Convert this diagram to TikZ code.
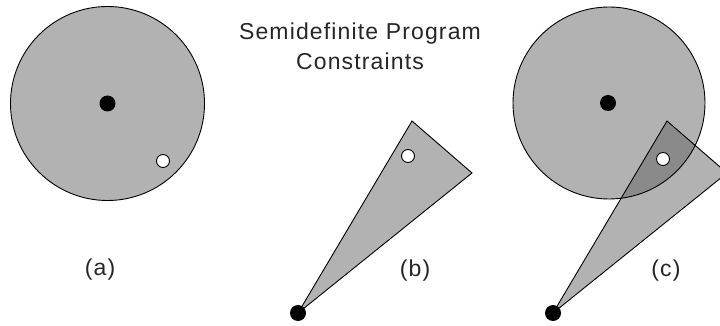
\documentclass[tikz,border=0pt]{standalone}
\usepackage{fontspec}
\newfontfamily\lblfont[LetterSpace=5]{Liberation Sans}
\begin{document}
\begin{tikzpicture}[x=1pt,y=-1pt,
  region/.style={fill=black!30, draw=black, line width=0.9pt},
  outline/.style={draw=black, line width=0.9pt},
  overlap/.style={fill=black!46},
  solid dot/.style={circle, fill=black, inner sep=0pt, minimum size=16pt},
  hollow dot/.style={circle, fill=white, draw=black, line width=0.9pt, inner sep=0pt, minimum size=13pt},
  lbl/.style={font=\lblfont\fontsize{23}{30}\selectfont, text=black!85, inner sep=0pt, align=center}]
\useasboundingbox (0,0) rectangle (720,326);
\clip (0,0) rectangle (720,326);
% (a)
\fill[white] (0,0) rectangle (720,326);
\draw[region] (107.5,103.5) circle[radius=97];
\node[solid dot] (ca) at (107.5,103.5) {};
\node[hollow dot] (wa) at (163,161) {};
\node[lbl] (la) at (100,270) {(a)};
% title
\node[lbl] (title) at (360,46) {Semidefinite Program\\Constraints};
% (b)
\coordinate (bA) at (298,313);
\coordinate (bT) at (412,121);
\coordinate (bR) at (472,173);
\draw[region, line join=miter] (bA) -- (bT) -- (bR) -- cycle;
\node[hollow dot] (wb) at (408,156) {};
\node[solid dot] (ab) at (bA) {};
\node[lbl] (lb) at (415,271) {(b)};
% (c)
\coordinate (cC) at (609,103);
\coordinate (cA) at (553,313);
\coordinate (cT) at (667,121);
\coordinate (cR) at (727,173);
\fill[black!30] (cC) circle[radius=96];
\fill[black!30] (cA) -- (cT) -- (cR) -- cycle;
\begin{scope}
  \clip (cC) circle[radius=96];
  \fill[overlap] (cA) -- (cT) -- (cR) -- cycle;
\end{scope}
\draw[outline] (cC) circle[radius=96];
\draw[outline, line join=miter] (cA) -- (cT) -- (cR) -- cycle;
\node[solid dot] (cc) at (608,103) {};
\node[hollow dot] (wc) at (663,159) {};
\node[solid dot] (ac) at (cA) {};
\node[lbl] (lc) at (666,271) {(c)};
\end{tikzpicture}
\end{document}
